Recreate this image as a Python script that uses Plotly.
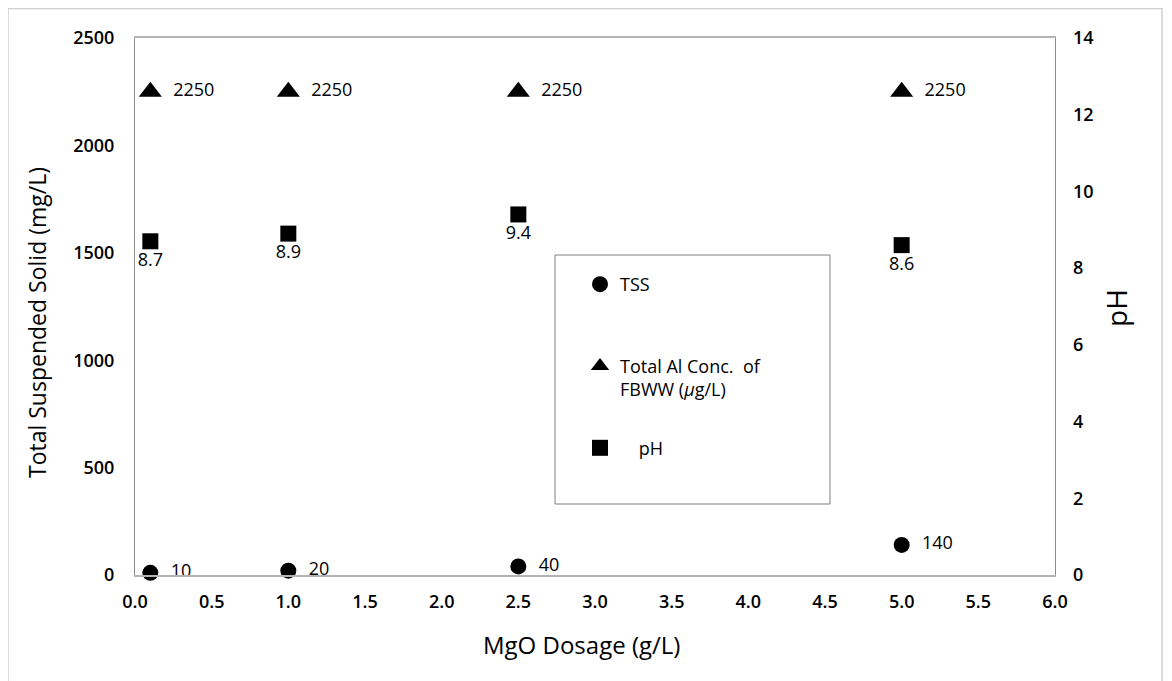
import plotly.graph_objects as go

dosage = [0.1, 1.0, 2.5, 5.0]
tss = [10, 20, 40, 140]
tss_labels = ["10", "20", "40", "140"]
al_conc = [2250, 2250, 2250, 2250]
al_labels = ["2250", "2250", "2250", "2250"]
ph = [8.7, 8.9, 9.4, 8.6]
ph_labels = ["8.7", "8.9", "9.4", "8.6"]

FONT = "Open Sans"
NB = "\u00a0"
fig = go.Figure()

fig.add_trace(go.Scatter(
    x=dosage, y=tss, mode="markers+text", name="TSS<br>" + NB,
    text=tss_labels, texttemplate=NB * 2 + "%{text}", textposition="middle right",
    textfont=dict(family=FONT, size=18, color="black"),
    marker=dict(symbol="circle", size=16, color="black"),
    legendgroup="a", cliponaxis=False,
))
fig.add_trace(go.Scatter(
    x=dosage, y=al_conc, mode="markers+text",
    name="Total Al Conc.  of<br>FBWW (<i>µ</i>g/L)",
    text=al_labels, texttemplate=NB * 2 + "%{text}", textposition="middle right",
    textfont=dict(family=FONT, size=18, color="black"),
    marker=dict(symbol="triangle-up", size=20, color="black"),
    legendgroup="b", cliponaxis=False,
))
fig.add_trace(go.Scatter(
    x=dosage, y=ph, mode="markers+text", name=NB * 4 + "pH<br>" + NB,
    text=ph_labels, textposition="bottom center",
    textfont=dict(family=FONT, size=18, color="black"),
    marker=dict(symbol="square", size=16, color="black"),
    yaxis="y2", legendgroup="c", cliponaxis=False,
))

OFF = 8  # page offset of the figure inside the browser
W, H = 1164, 673
L, T = 135 - OFF, 38 - OFF
pw, ph_ = 920, 537
R, B = W - L - pw, H - T - ph_


def px(x):
    return (x - OFF - L) / pw


def py(y):
    return (H - B - (y - OFF)) / ph_


title_font = dict(family=FONT, size=23, color="black")

fig.update_layout(
    width=W, height=H,
    margin=dict(l=L, r=R, t=T, b=B, pad=0),
    paper_bgcolor="white", plot_bgcolor="white",
    font=dict(family=FONT, color="black"),
    showlegend=True,
    legend=dict(
        x=px(580), y=py(266), xanchor="left", yanchor="top",
        borderwidth=0, bgcolor="rgba(0,0,0,0)",
        font=dict(family=FONT, size=18, color="black"),
        traceorder="grouped", tracegroupgap=32, valign="top",
        itemwidth=30,
    ),
    xaxis=dict(
        range=[0, 6], dtick=0.5, tickformat=".1f",
        showgrid=False, zeroline=False,
        showline=True, linecolor="#b4b4b4", linewidth=1.5, mirror=True,
        ticks="", ticklabelstandoff=10,
        tickfont=dict(family=FONT, size=18, color="black", weight=600),
    ),
    yaxis=dict(
        range=[0, 2500], dtick=500,
        showgrid=False, zeroline=False,
        showline=True, linecolor="#8c8c8c", linewidth=1, mirror=True,
        ticks="", ticklabelstandoff=16,
        tickfont=dict(family=FONT, size=18, color="black", weight=600),
    ),
    yaxis2=dict(
        range=[0, 14], dtick=2, overlaying="y", side="right",
        showgrid=False, zeroline=False, showline=False,
        ticks="", ticklabelstandoff=17,
        tickfont=dict(family=FONT, size=18, color="black", weight=600),
    ),
    annotations=[
        dict(text="MgO Dosage (g/L)", xref="paper", yref="paper",
             x=px(581), y=py(644), xanchor="center", yanchor="middle",
             showarrow=False, font=dict(family=FONT, size=24, color="black")),
        dict(text="Total Suspended Solid (mg/L)", xref="paper", yref="paper",
             x=px(37), y=py(323), xanchor="center", yanchor="middle", textangle=-90,
             showarrow=False, font=title_font),
        dict(text="pH", xref="paper", yref="paper",
             x=px(1116), y=py(308), xanchor="center", yanchor="middle", textangle=-90,
             showarrow=False, font=dict(family=FONT, size=28, color="black")),
    ],
    shapes=[
        dict(type="rect", xref="paper", yref="paper",
             x0=px(8), x1=px(1162), y0=py(690), y1=py(8.5),
             line=dict(color="#d0d0d0", width=1.5), layer="below"),
        dict(type="rect", xref="paper", yref="paper",
             x0=px(555), x1=px(830), y0=py(504), y1=py(255),
             line=dict(color="#7f7f7f", width=1), fillcolor="white", layer="below"),
    ],
)

fig.write_html("out.html")
